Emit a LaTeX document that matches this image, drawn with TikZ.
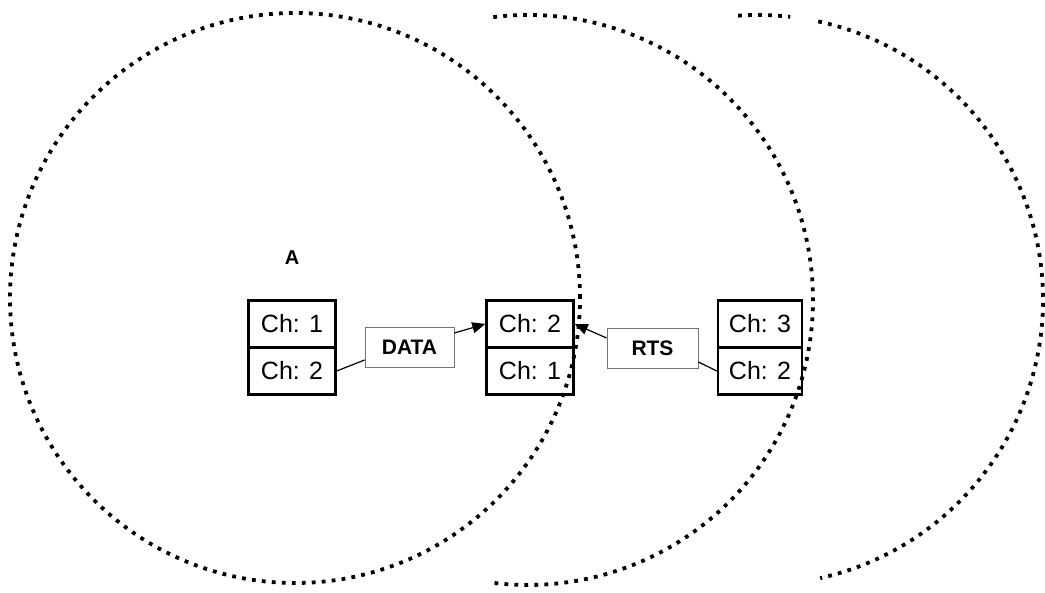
\documentclass[tikz,border=0pt]{standalone}
\usepackage{fontspec}
\setmainfont{Liberation Sans}
\usetikzlibrary{arrows.meta}
\begin{document}
\begin{tikzpicture}[x=1pt,y=1pt,
  radiozone/.style={line width=3.8pt, dash pattern=on 3.8pt off 6.2pt},
  cell/.style={draw, line width=2.4pt, minimum width=87pt, minimum height=47pt,
    inner sep=0pt, font=\fontsize{25}{29}\selectfont},
  msg/.style={draw=black!55, line width=0.8pt, minimum width=90pt, minimum height=40pt,
    inner sep=0pt, font=\bfseries\fontsize{21}{25}\selectfont},
  link/.style={line width=1.2pt},
  send/.style={line width=1.2pt, -{Triangle[length=13pt,width=11pt]}}]
\useasboundingbox (0,0) rectangle (1045,593);

% transmission ranges
\draw[radiozone] (295,295) circle[radius=285];
\draw[radiozone] (528,293) ++(97:285) arc[start angle=97, end angle=-97, radius=285];
\draw[radiozone] (758,293) ++(94:285) arc[start angle=94, end angle=83.5, radius=285];
\draw[radiozone] (758,293) ++(77.8:285) arc[start angle=77.8, end angle=-77.4, radius=285];

% node A
\node[font=\bfseries\fontsize{20}{24}\selectfont] (lblA) at (292,335) {A};
\node[cell] (a1) at (292,269) {Ch: 1};
\node[cell] (a2) at (292,222) {Ch: 2};

% middle node
\node[cell] (m1) at (530,269) {Ch: 2};
\node[cell] (m2) at (530,222) {Ch: 1};

% right node
\node[cell, minimum width=84pt] (r1) at (760,269) {Ch: 3};
\node[cell, minimum width=84pt] (r2) at (760,222) {Ch: 2};

% messages
\node[msg, minimum width=89pt] (data) at (409.5,246) {DATA};
\node[msg, minimum width=91pt] (rts) at (652.5,245) {RTS};

\draw[link] (a2.east) -- ([yshift=-13pt]data.west);
\draw[send] ([yshift=14pt]data.east) -- (m1.west);
\draw[link] (r2.west) -- ([yshift=-14pt]rts.east);
\draw[send] ([yshift=10pt]rts.west) -- (m1.east);
\end{tikzpicture}
\end{document}
